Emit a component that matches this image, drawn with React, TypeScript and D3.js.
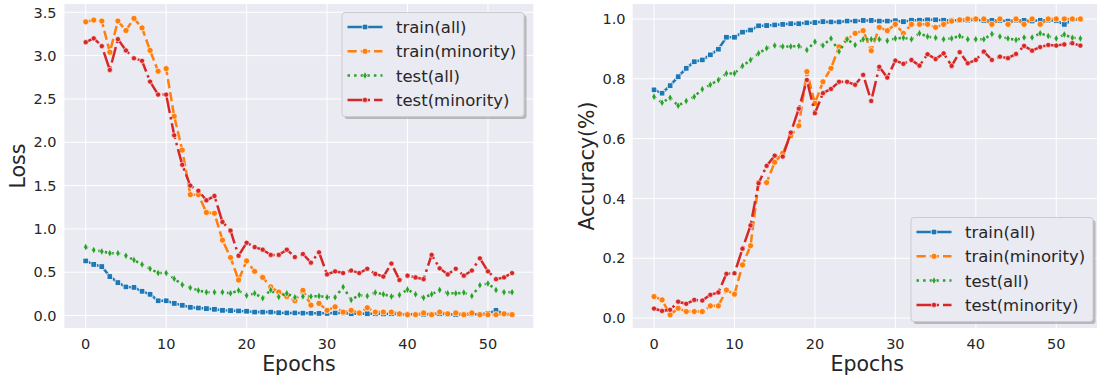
import React, { useEffect, useRef } from "react"
import * as d3 from "d3"

// series names, in legend order
const seriesNames = ["train(all)", "train(minority)", "test(all)", "test(minority)"]
const xTicks = [0, 10, 20, 30, 40, 50]
const lossTicks = [0, 0.5, 1, 1.5, 2, 2.5, 3, 3.5]
const accTicks = [0, 0.2, 0.4, 0.6, 0.8, 1]

// loss per epoch (index = epoch)
const lossTrainAll = [
  0.63, 0.59, 0.565, 0.45, 0.38, 0.33, 0.325, 0.28, 0.245, 0.17,
  0.17, 0.14, 0.118, 0.095, 0.087, 0.08, 0.072, 0.06, 0.057, 0.053,
  0.05, 0.04, 0.04, 0.04, 0.032, 0.03, 0.03, 0.028, 0.027, 0.025,
  0.025, 0.03, 0.03, 0.02, 0.022, 0.02, 0.02, 0.018, 0.02, 0.015,
  0.015, 0.015, 0.015, 0.015, 0.02, 0.015, 0.012, 0.015, 0.018, 0.012,
  0.025, 0.06, 0.02, 0.012,
]
const lossTrainMin = [
  3.39, 3.41, 3.4, 3.04, 3.4, 3.29, 3.43, 3.32, 3.06, 2.82,
  2.85, 2.3, 1.91, 1.395, 1.395, 1.19, 1.18, 0.87, 0.67, 0.41,
  0.63, 0.51, 0.44, 0.33, 0.27, 0.22, 0.17, 0.29, 0.12, 0.14,
  0.06, 0.1, 0.04, 0.06, 0.03, 0.09, 0.04, 0.04, 0.04, 0.02,
  0.01, 0.01, 0.03, 0.01, 0.04, 0.02, 0.03, 0.01, 0.03, 0.01,
  0.01, 0.01, 0.02, 0.01,
]
const lossTestAll = [
  0.79, 0.756, 0.74, 0.72, 0.72, 0.69, 0.64, 0.59, 0.54, 0.49,
  0.49, 0.425, 0.355, 0.32, 0.29, 0.27, 0.27, 0.27, 0.256, 0.29,
  0.23, 0.256, 0.2, 0.295, 0.215, 0.256, 0.21, 0.22, 0.22, 0.225,
  0.21, 0.21, 0.33, 0.18, 0.237, 0.225, 0.265, 0.245, 0.22, 0.237,
  0.3, 0.245, 0.205, 0.245, 0.295, 0.256, 0.256, 0.265, 0.225, 0.35,
  0.37, 0.295, 0.27, 0.27,
]
const lossTestMin = [
  3.155, 3.2, 3.11, 2.835, 3.19, 3.06, 2.97, 2.94, 2.7, 2.55,
  2.55, 2.08, 1.74, 1.5, 1.44, 1.33, 1.38, 1.08, 0.98, 0.69,
  0.84, 0.79, 0.76, 0.7, 0.7, 0.76, 0.675, 0.71, 0.61, 0.73,
  0.475, 0.51, 0.49, 0.52, 0.49, 0.54, 0.48, 0.45, 0.6, 0.41,
  0.46, 0.44, 0.42, 0.7, 0.545, 0.475, 0.54, 0.46, 0.52, 0.66,
  0.51, 0.42, 0.44, 0.49,
]

// accuracy per epoch
const accTrainAll = [
  0.763, 0.752, 0.777, 0.807, 0.835, 0.857, 0.863, 0.88, 0.899, 0.939,
  0.939, 0.956, 0.963, 0.977, 0.978, 0.98, 0.982, 0.984, 0.984, 0.987,
  0.988, 0.991, 0.99, 0.99, 0.993, 0.993, 0.995, 0.995, 0.993, 0.993,
  0.994, 0.991, 0.996, 0.996, 0.997, 0.997, 0.996, 0.996, 0.995, 0.996,
  0.997, 0.995, 0.995, 0.995, 0.993, 0.996, 0.995, 0.993, 0.996, 0.996,
  0.994, 0.982, 0.997, 0.998,
]
const accTrainMin = [
  0.072, 0.061, 0.011, 0.033, 0.022, 0.022, 0.022, 0.041, 0.041, 0.094,
  0.08, 0.178, 0.242, 0.453, 0.453, 0.521, 0.551, 0.61, 0.643, 0.824,
  0.718, 0.79, 0.835, 0.907, 0.933, 0.952, 0.961, 0.894, 0.972, 0.961,
  0.982, 0.952, 0.982, 0.982, 0.982, 0.972, 0.982, 0.993, 0.997, 1.0,
  1.0, 1.0, 0.982, 1.0, 0.982, 1.0, 0.982, 1.0, 0.982, 1.0,
  1.0, 1.0, 1.0, 1.0,
]
const accTestAll = [
  0.74, 0.72, 0.737, 0.71, 0.726, 0.74, 0.765, 0.78, 0.796, 0.818,
  0.818, 0.843, 0.863, 0.885, 0.902, 0.911, 0.908, 0.908, 0.91, 0.896,
  0.924, 0.911, 0.935, 0.891, 0.932, 0.913, 0.932, 0.932, 0.932, 0.927,
  0.935, 0.937, 0.932, 0.952, 0.941, 0.937, 0.932, 0.935, 0.943, 0.932,
  0.932, 0.932, 0.95, 0.941, 0.935, 0.93, 0.938, 0.938, 0.952, 0.943,
  0.935, 0.948, 0.937, 0.935,
]
const accTestMin = [
  0.032, 0.024, 0.028, 0.055, 0.048, 0.061, 0.059, 0.078, 0.086, 0.148,
  0.15, 0.232, 0.31, 0.451, 0.509, 0.543, 0.54, 0.62, 0.7, 0.796,
  0.685, 0.752, 0.766, 0.79, 0.79, 0.78, 0.813, 0.726, 0.84, 0.804,
  0.861, 0.85, 0.863, 0.844, 0.882, 0.866, 0.885, 0.843, 0.889, 0.852,
  0.863, 0.891, 0.863, 0.874, 0.869, 0.883, 0.91, 0.894, 0.906, 0.913,
  0.911, 0.915, 0.919, 0.911,
]

const colors = ["#1f77b4", "#ff7f0e", "#2ca02c", "#d62728"]
const dashes = [null, "9.25,4", "2.5,4.1", "16,4,2.5,4"]
const markers = ["square", "circle", "thin_diamond", "dot"]

const BG = "#EAEAF2"
const TXT = "#262626"
const FONT = "DejaVu Sans"

function drawMarker(g: any, kind: string, cx: number, cy: number, color: string) {
  if (kind === "square") {
    g.append("rect").attr("x", cx - 2.8).attr("y", cy - 2.8).attr("width", 5.6).attr("height", 5.6)
      .attr("fill", color).attr("stroke", "white").attr("stroke-width", 0.7)
  } else if (kind === "circle") {
    g.append("circle").attr("cx", cx).attr("cy", cy).attr("r", 3.1)
      .attr("fill", color).attr("stroke", "white").attr("stroke-width", 0.7)
  } else if (kind === "thin_diamond") {
    g.append("path").attr("d", `M${cx},${cy - 4}L${cx + 2.2},${cy}L${cx},${cy + 4}L${cx - 2.2},${cy}Z`)
      .attr("fill", color).attr("stroke", "white").attr("stroke-width", 0.6)
  } else {
    g.append("circle").attr("cx", cx).attr("cy", cy).attr("r", 2.6)
      .attr("fill", color).attr("stroke", "white").attr("stroke-width", 0.6)
  }
}

function drawPanel(svg: any, p: any) {
  const x = d3.scaleLinear().domain([-2.65, 55.65]).range([p.left, p.left + 469])
  const y = d3.scaleLinear().domain(p.yDomain).range([328, 4])
  const g = svg.append("g")

  g.append("rect").attr("x", x.range()[0]).attr("y", 4).attr("width", 469).attr("height", 324).attr("fill", BG)

  // grid
  g.selectAll(".gx").data(xTicks).join("line")
    .attr("x1", (d: number) => x(d)).attr("x2", (d: number) => x(d)).attr("y1", 4).attr("y2", 328)
    .attr("stroke", "white").attr("stroke-width", 1)
  g.selectAll(".gy").data(p.yTicks).join("line")
    .attr("x1", x.range()[0]).attr("x2", x.range()[1]).attr("y1", (d: number) => y(d)).attr("y2", (d: number) => y(d))
    .attr("stroke", "white").attr("stroke-width", 1)

  // tick labels
  g.selectAll(".tx").data(xTicks).join("text")
    .attr("x", (d: number) => x(d)).attr("y", 348.5).attr("text-anchor", "middle")
    .attr("font-family", FONT).attr("font-size", 14.5).attr("fill", TXT).text((d: number) => d)
  g.selectAll(".ty").data(p.yTicks).join("text")
    .attr("x", p.tickX).attr("y", (d: number) => y(d) + 5.2).attr("text-anchor", "end")
    .attr("font-family", FONT).attr("font-size", 14.5).attr("fill", TXT).text((d: number) => d3.format(".1f")(d))

  // axis titles
  g.append("text").attr("x", (x.range()[0] + x.range()[1]) / 2).attr("y", 371).attr("text-anchor", "middle")
    .attr("font-family", FONT).attr("font-size", 20.5).attr("fill", TXT).text("Epochs")
  g.append("text").attr("transform", `translate(${p.labelX},166) rotate(-90)`).attr("text-anchor", "middle")
    .attr("font-family", FONT).attr("font-size", 20.5).attr("fill", TXT).text(p.yLabel)

  // series
  const line = d3.line<number>().x((d, i) => x(i)).y(d => y(d))
  p.series.forEach((vals: number[], k: number) => {
    const sg = g.append("g")
    sg.append("path").attr("d", line(vals)).attr("fill", "none").attr("stroke", colors[k])
      .attr("stroke-width", 2.5).attr("stroke-dasharray", dashes[k]).attr("stroke-linejoin", "round")
    vals.forEach((v, i) => drawMarker(sg, markers[k], x(i), y(v), colors[k]))
  })

  // legend
  const L = p.legend
  const lg = g.append("g")
  lg.append("rect").attr("x", L.x + 2.5).attr("y", L.y + 2.5).attr("width", 182).attr("height", 104)
    .attr("rx", 3).attr("fill", "#8c8c90").attr("opacity", 0.55)
  lg.append("rect").attr("x", L.x).attr("y", L.y).attr("width", 182).attr("height", 104)
    .attr("rx", 3).attr("fill", BG).attr("stroke", "#cccccc").attr("stroke-width", 1)
  seriesNames.forEach((name, k) => {
    const ry = L.y + 14.5 + k * 24.3
    lg.append("line").attr("x1", L.x + 5.5).attr("x2", L.x + 40.5).attr("y1", ry).attr("y2", ry)
      .attr("stroke", colors[k]).attr("stroke-width", 2.5).attr("stroke-dasharray", dashes[k])
    drawMarker(lg, markers[k], L.x + 23, ry, colors[k])
    lg.append("text").attr("x", L.x + 54).attr("y", ry + 6).attr("font-family", FONT)
      .attr("font-size", 16.5).attr("fill", TXT).text(name)
  })
}

const panels = [
  {
    left: 64.4, yDomain: [-0.144, 3.596], yTicks: lossTicks, tickX: 56.5, labelX: 24.5, yLabel: "Loss",
    series: [lossTrainAll, lossTrainMin, lossTestAll, lossTestMin], legend: { x: 342, y: 12.5 },
  },
  {
    left: 632.7, yDomain: [-0.033, 1.05], yTicks: accTicks, tickX: 625.5, labelX: 593.5, yLabel: "Accuracy(%)",
    series: [accTrainAll, accTrainMin, accTestAll, accTestMin], legend: { x: 911, y: 217.5 },
  },
]

export default function App() {
  const ref = useRef<SVGSVGElement>(null)

  useEffect(() => {
    const svg = d3.select(ref.current)
    svg.selectAll("*").remove()
    panels.forEach(p => drawPanel(svg, p))
  }, [])

  return (
    <svg ref={ref} width={1097} height={377}
      style={{ position: "absolute", left: 0, top: 0, background: "white" }} />
  )
}
